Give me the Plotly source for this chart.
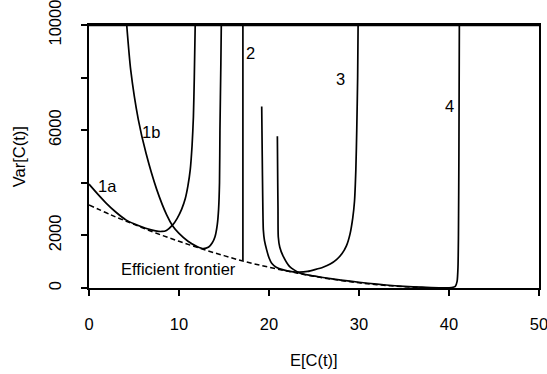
import plotly.graph_objects as go

# ---- data ----
frontier_E = [0, 2.5, 5, 7.5, 10, 12.5, 15, 17.5, 20, 22.5, 25, 27.5, 30, 32.5, 35, 37.5, 40]
frontier_V = [3160, 2770, 2420, 2080, 1775, 1490, 1230, 990, 790, 610, 445, 310, 197, 110, 50, 12, 0]

c1a_E = [0, 1, 1.9, 3, 4.1, 5, 6.3, 7.4, 8.1, 8.6, 9.3, 9.8, 10.3, 10.7, 11.0, 11.25, 11.45, 11.6, 11.7, 11.8]
c1a_V = [3950, 3560, 3230, 2880, 2590, 2440, 2270, 2170, 2150, 2190, 2400, 2650, 3000, 3400, 3900, 4500, 5400, 6500, 8000, 10000]

c1b_E = [4.19, 4.63, 5.48, 6.33, 7.52, 8.63, 9.3, 10.0, 11.0, 12.0, 12.7, 13.3, 13.7, 14.0, 14.25, 14.4, 14.5, 14.55, 14.65, 14.7]
c1b_V = [10000, 8300, 6400, 5130, 3750, 2780, 2360, 2080, 1780, 1580, 1500, 1560, 1720, 1950, 2400, 3000, 4000, 6000, 8500, 10000]

c2_E = [17.1, 17.1]
c2_V = [1050, 10000]

c3_E = [19.19, 19.25, 19.3, 19.37, 19.5, 19.74, 20.0, 20.3, 20.8, 21.6, 22.5, 23.4, 24.3, 25.1, 26.0, 26.8, 27.5, 28.1, 28.6, 29.0, 29.3, 29.5, 29.65, 29.75, 29.85, 29.9]
c3_V = [6900, 5000, 3500, 2210, 1800, 1450, 1150, 940, 790, 690, 625, 600, 630, 700, 790, 910, 1080, 1300, 1600, 2050, 2650, 3300, 4500, 6000, 8000, 10000]

c4_E = [20.93, 20.97, 21.0, 21.03, 21.2, 21.6, 22.3, 23.4, 24.6, 26.0, 28, 30, 32, 34, 36, 38, 39.5, 40.3, 40.7, 40.9, 41.0, 41.05, 41.1, 41.15]
c4_V = [5770, 4000, 3000, 1950, 1550, 1190, 810, 570, 480, 400, 300, 218, 145, 85, 45, 18, 8, 20, 60, 250, 800, 2000, 5000, 10000]

curve_labels = ["1a", "1b", "2", "3", "4"]
label_E = [2.0, 6.9, 17.9, 27.9, 40.0]
label_V = [3880, 5930, 8920, 7950, 6930]

x_ticks = [0, 10, 20, 30, 40, 50]
y_ticks = [0, 2000, 4000, 6000, 8000, 10000]
y_ticktext = ["0", "2000", "", "6000", "", "10000"]

FONT = "Liberation Sans, Arial, sans-serif"
FS = 16.5

fig = go.Figure()
fig.add_trace(go.Scatter(x=frontier_E, y=frontier_V, mode="lines",
                         line=dict(color="black", width=1.5, dash="5px,3px", shape="spline")))
for ex, vy in [(c1a_E, c1a_V), (c1b_E, c1b_V), (c2_E, c2_V), (c3_E, c3_V), (c4_E, c4_V)]:
    fig.add_trace(go.Scatter(x=ex, y=vy, mode="lines",
                             line=dict(color="black", width=1.7, shape="spline", smoothing=0.6)))

for t, ex, vy in zip(curve_labels, label_E, label_V):
    fig.add_annotation(x=ex, y=vy, text=t, showarrow=False,
                       font=dict(family=FONT, size=FS, color="black"))
fig.add_annotation(x=9.97, y=730, text="Efficient frontier", showarrow=False,
                   font=dict(family=FONT, size=FS, color="black"))

# axis titles
fig.add_annotation(xref="paper", yref="paper", x=0.5, y=-0.275, text="E[C(t)]",
                   showarrow=False, yanchor="middle",
                   font=dict(family=FONT, size=FS, color="black"))
fig.add_annotation(xref="paper", yref="paper", x=-0.156, y=0.5, text="Var[C(t)]",
                   showarrow=False, textangle=-90, xanchor="center",
                   font=dict(family=FONT, size=FS, color="black"))

# explicit top frame line
fig.add_shape(type="line", xref="paper", yref="paper", x0=0, x1=1, y0=0.998, y1=0.998,
              line=dict(color="black", width=1.3), layer="above")

fig.update_layout(
    width=547, height=374,
    margin=dict(l=89, r=8, t=25, b=86, autoexpand=False),
    paper_bgcolor="white", plot_bgcolor="white",
    showlegend=False,
    font=dict(family=FONT, size=FS, color="black"),
    xaxis=dict(range=[0, 50], tickvals=x_ticks, showgrid=False, zeroline=False,
               showline=True, mirror=True, linecolor="black", linewidth=1.6,
               ticks="outside", ticklen=6, tickwidth=1.5, tickcolor="black",
               ticklabelstandoff=14, ticklabeloverflow="allow", automargin=False,
               fixedrange=True),
    yaxis=dict(range=[0, 10000], tickvals=y_ticks, ticktext=y_ticktext,
               showgrid=False, zeroline=False, tickangle=-90,
               showline=True, mirror=True, linecolor="black", linewidth=1.6,
               ticks="outside", ticklen=6, tickwidth=1.5, tickcolor="black",
               ticklabelstandoff=14, ticklabeloverflow="allow", automargin=False,
               fixedrange=True),
)

fig.write_html("out.html")
